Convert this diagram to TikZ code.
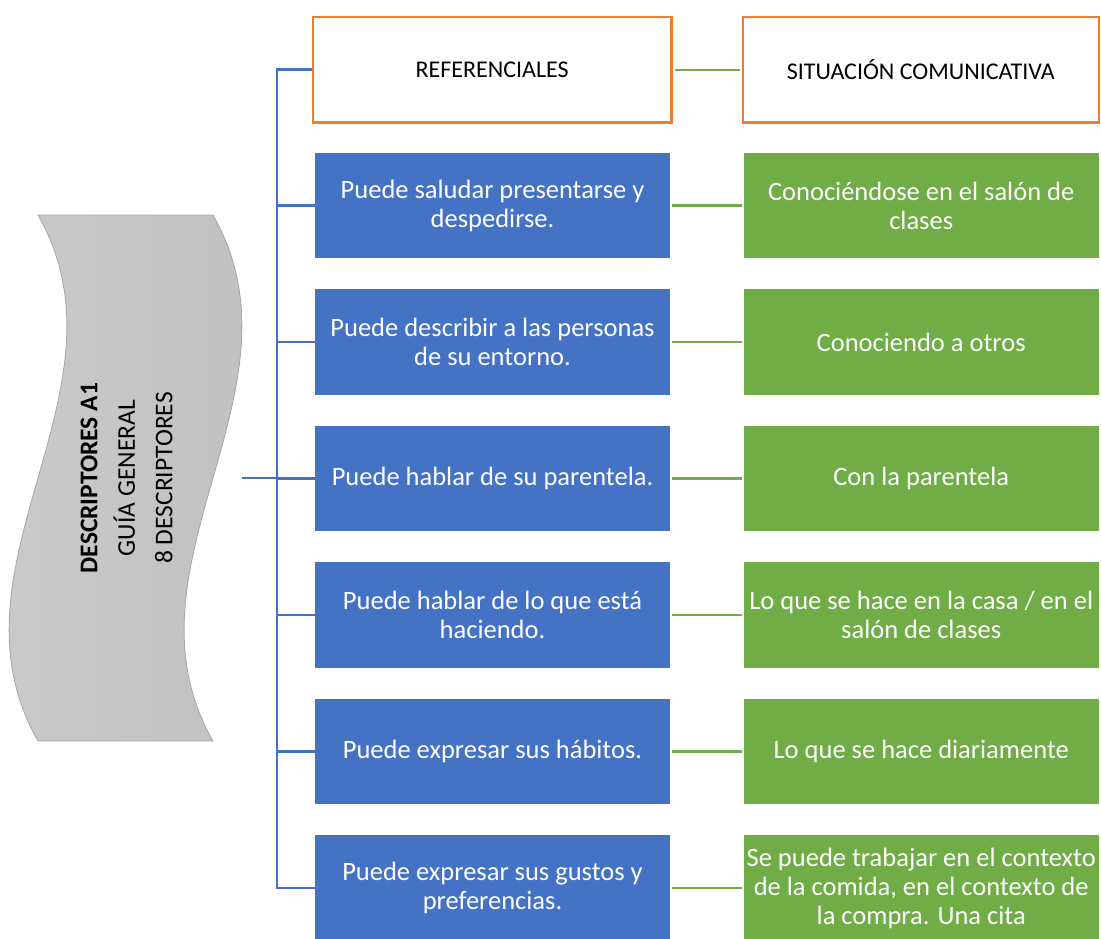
\documentclass[tikz,border=0pt]{standalone}
\usepackage{fontspec}
\setmainfont{Carlito}
\definecolor{cblue}{HTML}{4472C4}
\definecolor{cgreen}{HTML}{70AD47}
\definecolor{corange}{HTML}{ED7D31}
\definecolor{wavefill}{HTML}{BFBFBF}
\definecolor{waveedge}{HTML}{A6A6A6}
\begin{document}
\begin{tikzpicture}[x=1pt,y=-1pt,
  headbox/.style={rectangle, draw=corange, line width=2.2pt, fill=white,
    minimum width=356, minimum height=105.5, inner sep=0pt,
    font=\fontsize{24}{29}\selectfont},
  refbox/.style={rectangle, fill=cblue, text=white, align=center,
    minimum width=355, minimum height=105.5, inner sep=0pt,
    font=\fontsize{26.5}{29}\selectfont},
  sitbox/.style={rectangle, fill=cgreen, text=white, align=center,
    minimum width=355, minimum height=105.5, inner sep=0pt,
    font=\fontsize{26.5}{29}\selectfont},
  trunkline/.style={draw=cblue, line width=2.6pt},
  linkline/.style={draw=cgreen, line width=2.4pt, shorten <=2pt, shorten >=2pt}]
\useasboundingbox (0,0) rectangle (1101,938);

% wavy banner on the left
\shade[left color=wavefill!80!white, right color=wavefill, draw=waveedge, line width=0.8pt]
  (38,215) -- (213,215)
  .. controls (313,390.3) and (113,565.7) .. (213,741)
  -- (38,741)
  .. controls (-62,565.7) and (138,390.3) .. (38,215) -- cycle;
\node[rotate=90, align=center, font=\fontsize{25.5}{37.5}\selectfont] (wave) at (126.5,478)
  {\textbf{DESCRIPTORES A1}\\GUÍA GENERAL\\8 DESCRIPTORES};
\coordinate (wavee) at (242,478);
\coordinate (tk) at (277,478);

% column headers
\node[headbox, minimum width=358.5] (h1) at (492.2,69.7) {REFERENCIALES};
\node[headbox] (h2) at (920.8,69.7) {SITUACIÓN COMUNICATIVA};

% referential descriptors
\node[refbox] (r1) at (492.5,205.5) {Puede saludar presentarse y\\despedirse.};
\node[refbox] (r2) at (492.5,342) {Puede describir a las personas\\de su entorno.};
\node[refbox] (r3) at (492.5,478.5) {Puede hablar de su parentela.};
\node[refbox] (r4) at (492.5,615) {Puede hablar de lo que está\\haciendo.};
\node[refbox] (r5) at (492.5,751.5) {Puede expresar sus hábitos.};
\node[refbox] (r6) at (492.5,888) {Puede expresar sus gustos y\\preferencias.};

% communicative situations
\node[sitbox] (s1) at (921.2,205.5) {Conociéndose en el salón de\\clases};
\node[sitbox] (s2) at (921.2,342) {Conociendo a otros};
\node[sitbox] (s3) at (921.2,478.5) {Con la parentela};
\node[sitbox] (s4) at (921.2,615) {Lo que se hace en la casa / en el\\salón de clases};
\node[sitbox] (s5) at (921.2,751.5) {Lo que se hace diariamente};
\node[sitbox] (s6) at (921.2,888) {Se puede trabajar en el contexto\\de la comida, en el contexto de\\la compra. Una cita};

% tree connectors
\draw[trunkline] (wavee) -- (tk);
\draw[trunkline] (h1.west) -| (tk) |- (r6.west);
\foreach \n in {r1,r2,r3,r4,r5}
  \draw[trunkline] (\n.west) -- (\n.west -| tk);

% links between the two columns
\draw[linkline] (h1.east) -- (h2.west);
\foreach \i in {1,...,6}
  \draw[linkline] (r\i.east) -- (s\i.west);
\end{tikzpicture}
\end{document}
